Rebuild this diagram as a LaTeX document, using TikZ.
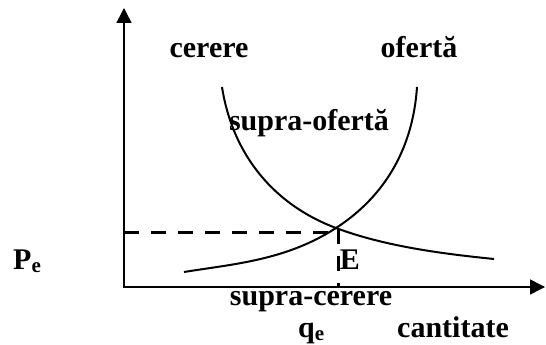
\documentclass[tikz,border=0pt]{standalone}
\usepackage{fontspec}
\setmainfont{Liberation Serif}
\usetikzlibrary{arrows.meta}
\tikzset{
  lbl/.style={font=\fontsize{30}{30}\selectfont\bfseries, inner sep=0pt, anchor=base},
  axis/.style={line width=1.5pt, {Triangle[width=15pt,length=15pt]}-{Triangle[width=15pt,length=15pt]}},
  curve/.style={line width=2pt},
  guide/.style={line width=3pt, dash pattern=on 15pt off 12pt}
}
\begin{document}
\begin{tikzpicture}[x=1pt,y=-1pt]
  \useasboundingbox (0,0) rectangle (546,345);
  \coordinate (O) at (124,287);
  \coordinate (Y) at (124,8);
  \coordinate (X) at (545,287);
  \coordinate (I) at (336,228);
  \coordinate (D1) at (222,87);
  \coordinate (D2) at (494,259);
  \coordinate (S1) at (417,87);
  \coordinate (S2) at (184,272);
  \coordinate (Pa) at (124,232);
  \coordinate (Pb) at (330,232);
  \coordinate (Qa) at (338,229);
  \coordinate (Qb) at (338,287);
  \draw[axis] (Y) -- (O) -- (X);
  \draw[curve] (D1) .. controls (233,157) and (276,205.6) .. (I)
    .. controls (386,246.7) and (444,253.9) .. (D2);
  \draw[curve] (S1) .. controls (413,147) and (386,195.6) .. (I)
    .. controls (286,260.4) and (234,263.9) .. (S2);
  \draw[guide] (Pa) -- (Pb);
  \draw[guide] (Qa) -- (Qb);
  \node[lbl] (cer) at (209,58) {cerere};
  \node[lbl] (ofe) at (419,58) {ofertă};
  \node[lbl] (sof) at (309,130) {supra-ofertă};
  \node[lbl, anchor=base west] (pe) at (13,269) {P\textsubscript{e}};
  \node[lbl] (eq) at (350,269) {E};
  \node[lbl] (sce) at (311,305) {supra-cerere};
  \node[lbl, anchor=base west] (qe) at (298,337) {q\textsubscript{e}};
  \node[lbl] (can) at (453,337) {cantitate};
\end{tikzpicture}
\end{document}
